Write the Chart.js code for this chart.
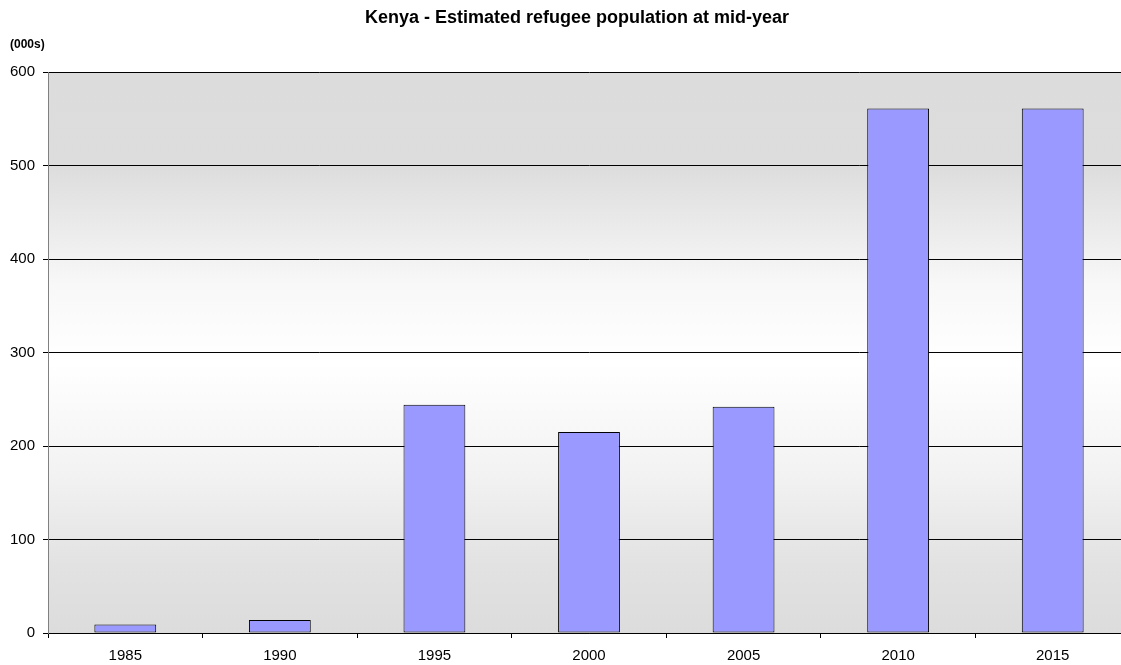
<!DOCTYPE html>
<html lang="en">
<head>
    <meta charset="UTF-8">
    <script src="https://cdn.jsdelivr.net/npm/chart.js@4.4.1/dist/chart.umd.min.js"></script>
    <title>Kenya - Estimated refugee population at mid-year</title>
    <style>
        html, body { margin: 0; padding: 0; background: #fff; overflow: hidden; }
        #wrap { width: 1131px; height: 665px; }
    </style>
</head>
<body>
    <div id="wrap"><canvas id="chart" width="1131" height="665"></canvas></div>
    <script>
        const years = ['1985', '1990', '1995', '2000', '2005', '2010', '2015'];
        const refugees = [9, 14, 244, 215, 242, 561, 561];
        const yTicks = [0, 100, 200, 300, 400, 500, 600];

        const fontFamily = "'Liberation Sans', Arial, sans-serif";

        // gradient background of the plot area + title + unit label
        const decor = {
            id: 'decor',
            beforeDraw(chart) {
                const { ctx, chartArea: a } = chart;
                const g = ctx.createLinearGradient(0, a.top, 0, a.bottom);
                g.addColorStop(0, '#dcdcdc');
                g.addColorStop(0.17, '#dddddd');
                g.addColorStop(0.38, '#f8f8f8');
                g.addColorStop(0.52, '#ffffff');
                g.addColorStop(0.72, '#f2f2f2');
                g.addColorStop(0.88, '#e2e2e2');
                g.addColorStop(1, '#dcdcdc');
                ctx.save();
                ctx.fillStyle = g;
                ctx.fillRect(a.left, a.top, a.right - a.left, a.bottom - a.top);
                ctx.restore();
            },
            afterDraw(chart) {
                const { ctx } = chart;
                ctx.save();
                ctx.fillStyle = '#000';
                ctx.textBaseline = 'middle';
                ctx.font = 'bold 18px ' + fontFamily;
                ctx.textAlign = 'center';
                ctx.fillText('Kenya - Estimated refugee population at mid-year', 577, 18);
                ctx.font = 'bold 12px ' + fontFamily;
                ctx.textAlign = 'left';
                ctx.fillText('(000s)', 10, 45);
                ctx.restore();
            }
        };

        new Chart(document.getElementById('chart'), {
            type: 'bar',
            data: {
                labels: years,
                datasets: [{
                    data: refugees,
                    backgroundColor: '#9999ff',
                    borderColor: '#000000',
                    borderWidth: 1,
                    borderSkipped: false,
                    barPercentage: 0.4,
                    categoryPercentage: 1.0
                }]
            },
            options: {
                responsive: false,
                animation: false,
                layout: { padding: { top: 72, left: 0, right: 1, bottom: 2 } },
                plugins: {
                    legend: { display: false },
                    title: { display: false },
                    tooltip: { enabled: false }
                },
                scales: {
                    x: {
                        afterFit(scale) { scale.height = 30; },
                        grid: {
                            offset: true,
                            drawOnChartArea: false,
                            drawTicks: true,
                            tickLength: 5,
                            tickColor: '#000'
                        },
                        border: { color: '#000', width: 1 },
                        ticks: { color: '#000', padding: 9, font: { family: fontFamily, size: 15 } }
                    },
                    y: {
                        min: 0,
                        max: 600,
                        afterBuildTicks(scale) {
                            scale.ticks = yTicks.map(v => ({ value: v }));
                        },
                        afterFit(scale) { scale.width = 48; },
                        grid: {
                            color: '#000',
                            tickLength: 5,
                            tickColor: '#000'
                        },
                        border: { color: '#808080', width: 1 },
                        ticks: { color: '#000', padding: 8, font: { family: fontFamily, size: 15 } }
                    }
                }
            },
            plugins: [decor]
        });
    </script>
</body>
</html>
